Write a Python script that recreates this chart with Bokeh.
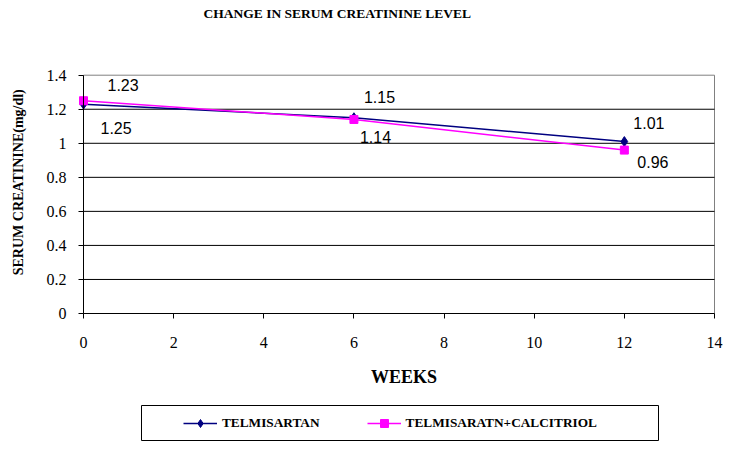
from bokeh.plotting import figure
from bokeh.models import (Range1d, FixedTicker, Label, Legend, LegendItem,
                          BoxAnnotation, ColumnDataSource, LinearAxis)
from bokeh.core.properties import value
from bokeh.embed import file_html
from bokeh.resources import INLINE

# ---- data ----
weeks = [0, 6, 12]
telmisartan = [1.23, 1.15, 1.01]
telmi_calcitriol = [1.25, 1.14, 0.96]
series_names = ["TELMISARTAN", "TELMISARATN+CALCITRIOL"]
telmisartan_labels = ["1.23", "1.15", "1.01"]
calcitriol_labels = ["1.25", "1.14", "0.96"]
x_ticks = [0, 2, 4, 6, 8, 10, 12, 14]
x_tick_labels = ["0", "2", "4", "6", "8", "10", "12", "14"]
y_ticks = [0, 0.2, 0.4, 0.6, 0.8, 1, 1.2, 1.4]
y_tick_labels = ["0", "0.2", "0.4", "0.6", "0.8", "1", "1.2", "1.4"]
x_limits = [0, 14]
y_limits = [0, 1.4]
title_text = "CHANGE IN SERUM CREATININE  LEVEL"
x_title = "WEEKS"
y_title = "SERUM  CREATININE(mg/dl)"

# ---- styles (label offsets in screen px) ----
blue_dx = [24, 10, 9]
blue_dy = [-19, -21, -19]
pink_dx = [17, 6, 13]
pink_dy = [27, 18, 12]

SERIF = "Liberation Serif"
SANS = "Liberation Sans"
NAVY = "#000080"
PINK = "#FF00FF"

W, H = 735, 446
# plot-area placement in pixels
PX_L, PX_R, PX_T, PX_B = 83, 714, 74.7, 313
XPX = (PX_R - PX_L) / (x_limits[1] - x_limits[0])
YPX = (PX_B - PX_T) / (y_limits[1] - y_limits[0])
def dx(px):
    return x_limits[0] + (px - PX_L) / XPX
def dy(py):
    return y_limits[0] + (PX_B - py) / YPX

p = figure(width=W, height=H, output_backend="svg", toolbar_location=None,
           x_range=Range1d(dx(0), dx(W)), y_range=Range1d(dy(H), dy(0)),
           x_axis_location=None, y_axis_location=None, min_border=0,
           background_fill_color="white", border_fill_color="white")
p.outline_line_color = None
p.xgrid.visible = False
p.ygrid.visible = False

# horizontal gridlines, limited to the plot area
inner = [t for t in y_ticks if y_limits[0] < t < y_limits[1]]
p.segment(x0=[x_limits[0]] * len(inner), x1=[x_limits[1]] * len(inner),
          y0=inner, y1=inner, line_color="black", line_width=1)

# plot area border (grey)
p.add_layout(BoxAnnotation(left=x_limits[0], right=x_limits[1],
                           bottom=y_limits[0], top=y_limits[1],
                           fill_alpha=0, line_color="#808080", line_width=1,
                           line_alpha=1, level="underlay"))

# axes fixed at the origin (tick labels drawn as serif text below)
xaxis = LinearAxis(fixed_location=y_limits[0], bounds=tuple(x_limits),
                   ticker=FixedTicker(ticks=x_ticks))
yaxis = LinearAxis(fixed_location=x_limits[0], bounds=tuple(y_limits),
                   ticker=FixedTicker(ticks=y_ticks))
xaxis.major_label_overrides = {t: "" for t in x_ticks}
yaxis.major_label_overrides = {t: "" for t in y_ticks}
for ax in (xaxis, yaxis):
    ax.axis_line_color = "black"
    ax.major_tick_line_color = "black"
    ax.major_tick_in = 0
    ax.major_tick_out = 5
    ax.minor_tick_line_color = None
p.add_layout(xaxis, "below")
p.add_layout(yaxis, "left")

p.text(x=x_ticks, y=[y_limits[0]] * len(x_ticks), text=x_tick_labels,
       y_offset=29, text_font=value(SERIF), text_font_size="16px",
       text_color="black", text_align="center", text_baseline="middle")
p.text(x=[x_limits[0]] * len(y_ticks), y=y_ticks, text=y_tick_labels,
       x_offset=-17, text_font=value(SERIF), text_font_size="16px",
       text_color="black", text_align="right", text_baseline="middle")

# series
l1 = p.line(weeks, telmisartan, line_color=NAVY, line_width=1.5)
m1 = p.scatter(weeks, telmisartan, marker="diamond", size=10,
               fill_color=NAVY, line_color=NAVY)
l2 = p.line(weeks, telmi_calcitriol, line_color=PINK, line_width=1.5)
m2 = p.scatter(weeks, telmi_calcitriol, marker="square", size=8,
               fill_color=PINK, line_color=PINK)

# data labels
src1 = ColumnDataSource(dict(x=weeks, y=telmisartan, t=telmisartan_labels,
                             dx=blue_dx, dy=blue_dy))
src2 = ColumnDataSource(dict(x=weeks, y=telmi_calcitriol, t=calcitriol_labels,
                             dx=pink_dx, dy=pink_dy))
for s in (src1, src2):
    p.text(x="x", y="y", text="t", x_offset="dx", y_offset="dy", source=s,
           text_font=value(SANS), text_font_size="16px", text_color="black",
           text_align="left", text_baseline="middle")

# titles
p.add_layout(Label(x=dx(338.5), y=dy(13), text=title_text, text_font=SERIF,
                   text_font_size="13.5px", text_font_style="bold",
                   text_align="center", text_baseline="middle", text_color="black"))
p.add_layout(Label(x=dx(403.5), y=dy(376), text=x_title, text_font=SERIF,
                   text_font_size="18px", text_font_style="bold",
                   text_align="center", text_baseline="middle", text_color="black"))
p.add_layout(Label(x=dx(18), y=dy(180), text=y_title, text_font=SERIF,
                   text_font_size="14px", text_font_style="bold", angle=1.5708,
                   text_align="center", text_baseline="middle", text_color="black"))

# legend box
p.add_layout(BoxAnnotation(left=dx(141), right=dx(658), top=dy(405), bottom=dy(440),
                           fill_alpha=0, line_color="black", line_width=1,
                           line_alpha=1))

legend = Legend(items=[LegendItem(label=series_names[0], renderers=[l1, m1]),
                       LegendItem(label=series_names[1], renderers=[l2, m2])],
                orientation="horizontal", location=(175, H - 440.5),
                glyph_width=34, glyph_height=20, label_standoff=5, spacing=47,
                padding=8, margin=0, border_line_alpha=0,
                background_fill_alpha=0,
                label_text_font=SERIF, label_text_font_size="13.3px",
                label_text_font_style="bold", label_text_color="black")
p.add_layout(legend, "center")

open("out.html", "w").write(file_html(p, INLINE))
